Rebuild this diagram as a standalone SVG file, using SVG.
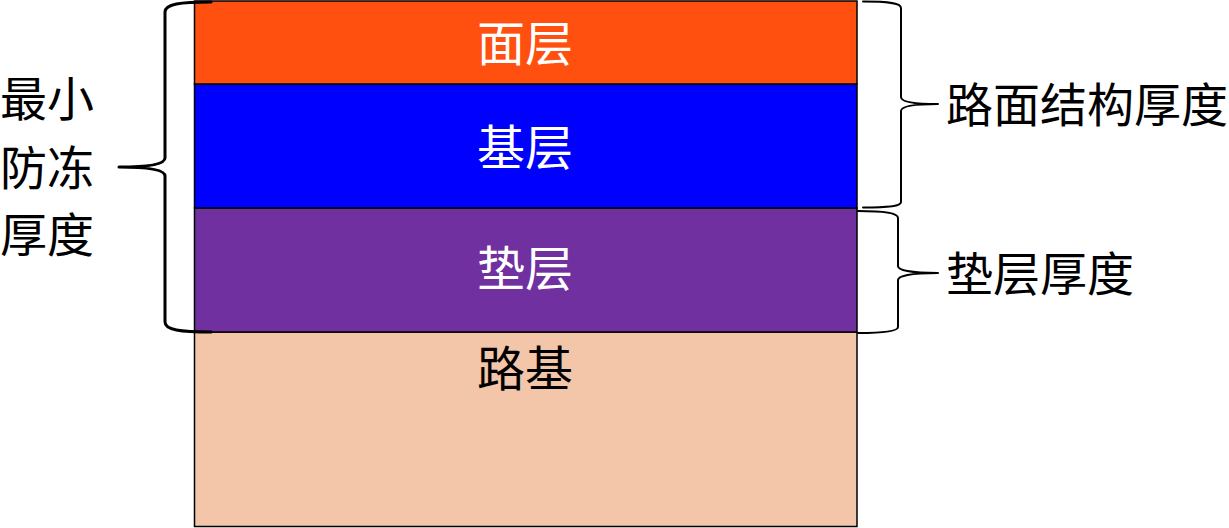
<svg xmlns="http://www.w3.org/2000/svg" width="1229" height="528" viewBox="0 0 1229 528">
<style>
.lbl{font-family:"Noto Sans CJK SC","Microsoft YaHei",sans-serif;font-size:47px;}
.in{text-anchor:middle;font-size:48px;}
.w{fill:#ffffff;}
.k{fill:#000000;}
.layer{stroke:#000000;stroke-width:1.5;}
.brace{fill:none;stroke:#000000;stroke-linecap:round;stroke-linejoin:round;}
</style>
<rect x="0" y="0" width="1229" height="528" fill="#ffffff"/>
<g id="subgrade">
<rect class="layer" x="194.5" y="332" width="662.5" height="194.5" fill="#F3C5A9"/>
<text class="lbl in k" x="525" y="386">路基</text>
</g>
<g id="cushion">
<rect class="layer" x="194.5" y="208" width="662.5" height="124" fill="#7030A0"/>
<text class="lbl in w" x="525" y="286">垫层</text>
</g>
<g id="base">
<rect class="layer" x="194.5" y="84" width="662.5" height="124" fill="#0000FF"/>
<text class="lbl in w" x="525" y="165">基层</text>
</g>
<g id="surface">
<rect class="layer" x="194.5" y="1" width="662.5" height="83" fill="#FF500F"/>
<text class="lbl in w" x="525" y="61">面层</text>
</g>
<g id="connectors">
<path class="brace" stroke-width="3" d="M211,2 C180,2 165,4 165,12 L165,158 C165,164 150,167 119,167 C150,167 165,170 165,176 L165,322 C165,330 180,332 211,332"/>
<path class="brace" stroke-width="2" d="M863,1.5 C890,1.5 901,3 901,8 L901,97 C901,101 910,104 938,104 C910,104 901,107 901,111 L901,202 C901,206 890,207.5 863,207.5"/>
<path class="brace" stroke-width="2" d="M858,211 C885,211 898,213 898,218 L898,266 C898,270 910,273 938,273 C910,273 898,276 898,280 L898,327 C898,331 885,333 858,333"/>
</g>
<g id="label-frost">
<text class="lbl k" x="0" y="116">最小</text>
<text class="lbl k" x="0" y="185">防冻</text>
<text class="lbl k" x="0" y="252">厚度</text>
</g>
<g id="label-pavement">
<text class="lbl k" x="946" y="122">路面结构厚度</text>
</g>
<g id="label-cushion">
<text class="lbl k" x="946" y="291">垫层厚度</text>
</g>
</svg>
